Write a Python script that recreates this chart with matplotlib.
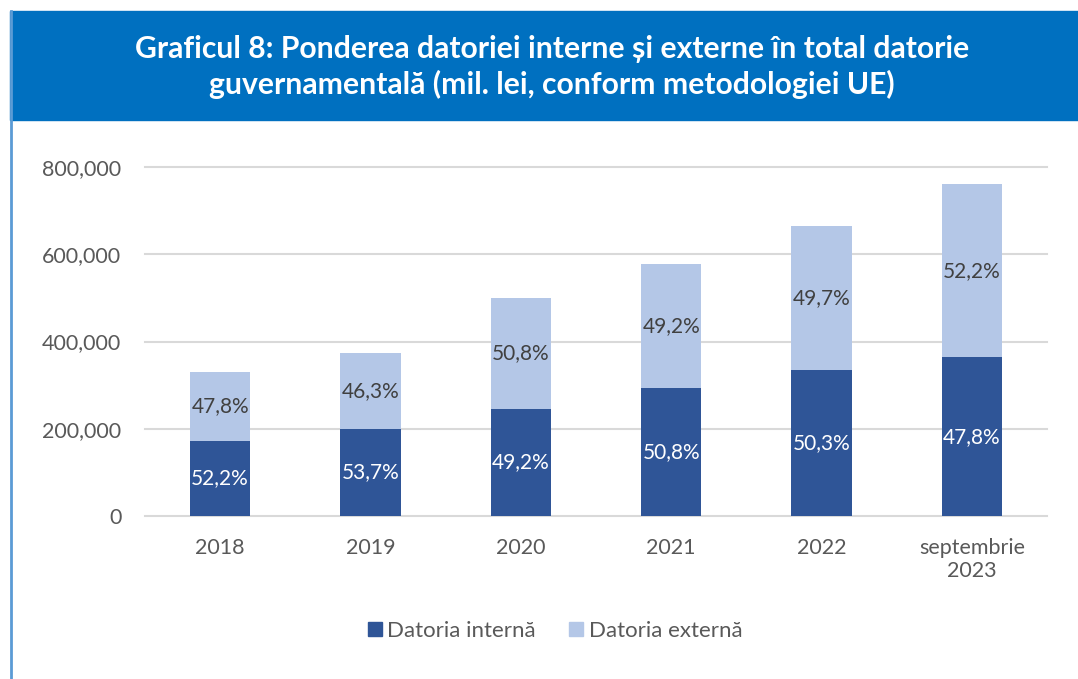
import matplotlib
matplotlib.use("Agg")
import matplotlib.pyplot as plt
from matplotlib.patches import Rectangle
from matplotlib.lines import Line2D
from matplotlib.ticker import FuncFormatter
import numpy as np

plt.rcParams['font.family'] = ['Lato', 'DejaVu Sans']

categories = ["2018", "2019", "2020", "2021", "2022", "septembrie\n2023"]
internal = [172000, 200000, 246000, 293500, 334500, 364000]
external = [158000, 173500, 254000, 284500, 330500, 397000]
internal_pct = ["52,2%", "53,7%", "49,2%", "50,8%", "50,3%", "47,8%"]
external_pct = ["47,8%", "46,3%", "50,8%", "49,2%", "49,7%", "52,2%"]
series_names = ["Datoria internă", "Datoria externă"]
title = ("Graficul 8: Ponderea datoriei interne și externe în total datorie\n"
         "guvernamentală (mil. lei, conform metodologiei UE)")

W, H = 1078, 679
fig = plt.figure(figsize=(W / 100, H / 100), dpi=100)

dark = "#2F5597"
light = "#B4C7E7"
banner = "#0070C0"

# banner and left border
fig.patches.append(Rectangle((10 / W, 1 - 120 / H), 1 - 10 / W, 109 / H,
                             transform=fig.transFigure, color=banner, zorder=0))
fig.lines.append(Line2D([10.5 / W, 10.5 / W], [0, 1 - 11 / H], transform=fig.transFigure,
                        color="#5B9BD5", lw=2))
fig.text(552 / W, 1 - 67 / H, title, ha="center", va="center", color="white",
         fontsize=21.7, fontweight="bold", linespacing=1.25)

ax = fig.add_axes([145 / W, 163 / H, 902 / W, 349 / H])
x = np.arange(len(categories))
bw = 0.4
ax.bar(x, internal, bw, color=dark, label=series_names[0], zorder=3)
ax.bar(x, external, bw, bottom=internal, color=light, label=series_names[1], zorder=3)

for i in range(len(categories)):
    ax.text(x[i], internal[i] / 2, internal_pct[i], ha="center", va="center",
            color="white", fontsize=15, zorder=4)
    ax.text(x[i], internal[i] + external[i] / 2, external_pct[i], ha="center",
            va="center", color="#404040", fontsize=15, zorder=4)

ax.set_xlim(-0.5, len(categories) - 0.5)
ax.set_ylim(0, 800000)
ax.set_yticks([0, 200000, 400000, 600000, 800000])
ax.yaxis.set_major_formatter(FuncFormatter(lambda v, p: f"{v:,.0f}"))
ax.set_xticks(x)
ax.set_xticklabels(categories)
ax.grid(axis="y", color="#D9D9D9", lw=1.5, zorder=0)
for ln in ax.get_ygridlines():
    ln.set_clip_on(False)
for s in ax.spines.values():
    s.set_visible(False)
ax.tick_params(axis="both", length=0, labelsize=15.5, labelcolor="#595959")
ax.tick_params(axis="y", pad=17)
ax.tick_params(axis="x", pad=16)

handles = [Rectangle((0, 0), 1, 1, color=dark), Rectangle((0, 0), 1, 1, color=light)]
fig.legend(handles, series_names, loc="center", bbox_to_anchor=(555 / W, 1 - 631 / H),
           ncol=2, frameon=False, fontsize=16, labelcolor="#595959",
           handlelength=0.62, handleheight=0.62, handletextpad=0.25, columnspacing=1.5)

fig.savefig("out.png", dpi=100, facecolor="white")
